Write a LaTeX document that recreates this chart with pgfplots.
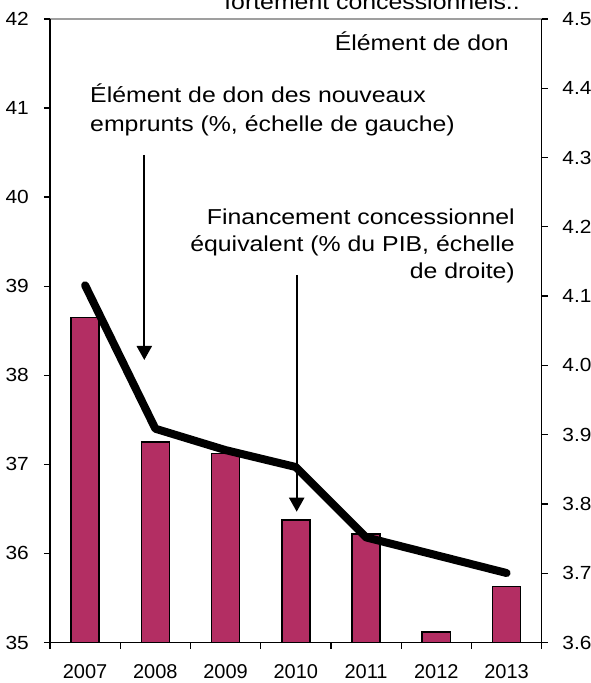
\documentclass[border=0pt]{standalone}
\usepackage{fontspec}
\setmainfont[FakeStretch=1.15]{Liberation Sans}
\newfontfamily\xtickfont{Liberation Sans}
\newfontfamily\ytickfont[FakeStretch=1.1]{Liberation Sans}
\usepackage{pgfplots}
\pgfplotsset{compat=1.18}
\usetikzlibrary{arrows.meta}
\definecolor{barcol}{RGB}{179,46,99}
\newcommand\annot{\fontsize{21.6bp}{27bp}\selectfont}
\pgfplotsset{common/.style={
  scale only axis, width=491.7bp, height=623.5bp,
  at={(50bp,40.5bp)}, anchor=south west,
  xmin=-0.5, xmax=6.5,
  axis line style={-, line width=1.3bp, black},
  tick style={line width=1.3bp, black},
  major tick length=6bp, tick align=outside,
  yticklabel style={font=\ytickfont\fontsize{19bp}{22bp}\selectfont, inner sep=0pt},
  xticklabel style={font=\xtickfont\fontsize{20bp}{24bp}\selectfont, inner sep=0pt, anchor=north, yshift=-16bp},
  /pgf/number format/assume math mode=true,
}}
\begin{document}
\begin{tikzpicture}
\draw[gray!75, line width=2bp] (50bp,664bp) -- (541.7bp,664bp);
\begin{axis}[common,
  ymin=3.6, ymax=4.5,
  ytick={3.6,3.7,3.8,3.9,4.0,4.1,4.2,4.3,4.4,4.5},
  yticklabel style={/pgf/number format/.cd, fixed, fixed zerofill, precision=1, /tikz/.cd, anchor=west, xshift=14.5bp},
  axis y line*=right, axis x line*=bottom,
  xtick={-0.5,0.5,1.5,2.5,3.5,4.5,5.5,6.5},
  x tick label as interval,
  xticklabels={2007,2008,2009,2010,2011,2012,2013},
  ybar, bar width=0.4,
]
\addplot[fill=barcol, draw=black, line width=1.6bp] coordinates {
(0,4.069) (1,3.889) (2,3.873) (3,3.777) (4,3.757) (5,3.615) (6,3.681)};
\end{axis}
\begin{axis}[common,
  ymin=35, ymax=42, ytick={35,36,37,38,39,40,41,42},
  yticklabel style={anchor=east, xshift=-15bp},
  axis y line*=left, axis x line=none,
]
\addplot[black, line width=8bp, line cap=round, line join=round] coordinates {
(0,39.01) (1,37.40) (2,37.16) (3,36.97) (4,36.18) (5,35.98) (6,35.78)};
\end{axis}
\node[anchor=base east, inner sep=0pt, font=\annot] at (520bp,673bp) {fortement concessionnels..};
\node[anchor=base east, inner sep=0pt, font=\annot] at (509bp,632bp) {Élément de don};
\node[anchor=base west, inner sep=0pt, font=\annot] at (90bp,580.3bp) {Élément de don des nouveaux};
\node[anchor=base west, inner sep=0pt, font=\annot] at (90bp,551.3bp) {emprunts (\%, échelle de gauche)};
\node[anchor=base east, inner sep=0pt, font=\annot] at (515bp,458.5bp) {Financement concessionnel};
\node[anchor=base east, inner sep=0pt, font=\annot] at (515bp,431bp) {équivalent (\% du PIB, échelle};
\node[anchor=base east, inner sep=0pt, font=\annot] at (515bp,404bp) {de droite)};
\draw[line width=2.2bp, -{Triangle[width=15bp,length=14bp]}] (144.3bp,528bp) -- (144.3bp,323bp);
\draw[line width=2.2bp, -{Triangle[width=15bp,length=14bp]}] (296.7bp,408bp) -- (296.7bp,171.3bp);
\pgfresetboundingbox
\useasboundingbox (0,0) rectangle (591bp,683bp);
\end{tikzpicture}
\end{document}
